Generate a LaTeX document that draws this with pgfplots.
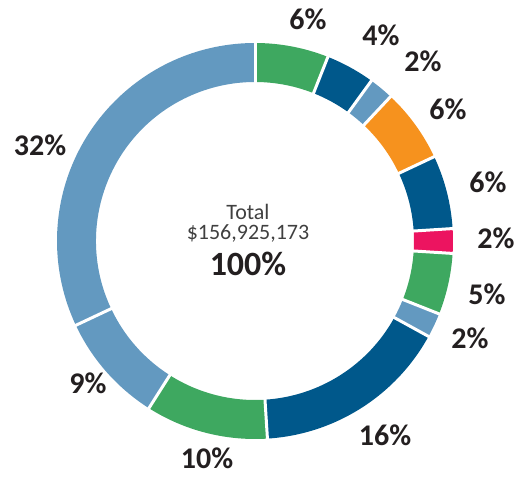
\documentclass[border=0pt]{standalone}
\usepackage{pgfplots}
\usepackage{pgfplotstable}
\pgfplotsset{compat=1.18}
\usepackage{fontspec}
\setmainfont{Carlito}
\definecolor{cgreen}{RGB}{62,168,96}
\definecolor{cblue}{RGB}{0,88,139}
\definecolor{clight}{RGB}{99,153,192}
\definecolor{corange}{RGB}{246,146,30}
\definecolor{cpink}{RGB}{236,20,96}
\definecolor{labelc}{RGB}{35,31,32}
\definecolor{centerc}{RGB}{64,64,64}

% share (%), colour, label position (pt from centre), clockwise from top
\pgfplotstableread{
pct col lx ly
6 cgreen 53 222
4 cblue 126 206
2 clight 168 180
6 corange 193 132
6 cblue 233 59
2 cpink 241 3
5 cgreen 232 -53
2 clight 215 -97
16 cblue 130 -194
10 cgreen -48 -217
9 clight -167 -142
32 clight -215 96
}\slices

\begin{document}
\begin{tikzpicture}
\begin{axis}[
  scale only axis,
  width=516pt, height=477pt,
  xmin=-255, xmax=261,
  ymin=-236, ymax=241,
  hide axis,
  clip=false,
]
\pgfplotsextra{
  \path (axis cs:-255,-236) rectangle (axis cs:261,241);
  \pgfplotstablegetrowsof{\slices}
  \pgfmathtruncatemacro\nrows{\pgfplotsretval-1}
  \xdef\cum{0}
  \foreach \i in {0,...,\nrows}{
    \pgfplotstablegetelem{\i}{pct}\of\slices \let\slicep\pgfplotsretval
    \pgfplotstablegetelem{\i}{col}\of\slices \let\slicecol\pgfplotsretval
    \pgfmathsetmacro\aA{90-3.6*\cum}
    \pgfmathsetmacro\aB{90-3.6*(\cum+\slicep)}
    \fill[\slicecol] ([shift={(\aA:159pt)}]axis cs:0,0)
      arc[start angle=\aA, end angle=\aB, radius=159pt]
      -- ([shift={(\aB:198pt)}]axis cs:0,0)
      arc[start angle=\aB, end angle=\aA, radius=198pt] -- cycle;
    \pgfmathsetmacro\newcum{\cum+\slicep}
    \xdef\cum{\newcum}
  }
  \xdef\cum{0}
  \foreach \i in {0,...,\nrows}{
    \pgfplotstablegetelem{\i}{pct}\of\slices \let\slicep\pgfplotsretval
    \pgfmathsetmacro\aA{90-3.6*\cum}
    \draw[white, line width=3pt] ([shift={(\aA:154pt)}]axis cs:0,0) -- ([shift={(\aA:203pt)}]axis cs:0,0);
    \pgfmathsetmacro\newcum{\cum+\slicep}
    \xdef\cum{\newcum}
  }
  \foreach \i in {0,...,\nrows}{
    \pgfplotstablegetelem{\i}{pct}\of\slices \let\slicep\pgfplotsretval
    \pgfplotstablegetelem{\i}{lx}\of\slices \let\lx\pgfplotsretval
    \pgfplotstablegetelem{\i}{ly}\of\slices \let\ly\pgfplotsretval
    \node[inner sep=0pt, text=labelc, font=\fontsize{30}{36}\selectfont\bfseries] at (axis cs:\lx,\ly) {\slicep\%};
  }
  \node[inner sep=0pt, anchor=base, text=centerc, font=\fontsize{22}{26}\selectfont] at (axis cs:-7,22) {Total};
  \node[inner sep=0pt, anchor=base, text=centerc, font=\fontsize{22}{26}\selectfont] at (axis cs:-7,1) {\$156,925,173};
  \node[inner sep=0pt, anchor=base, text=labelc, font=\fontsize{34}{40}\selectfont\bfseries] at (axis cs:-7,-34) {100\%};
}
\end{axis}
\end{tikzpicture}
\end{document}
